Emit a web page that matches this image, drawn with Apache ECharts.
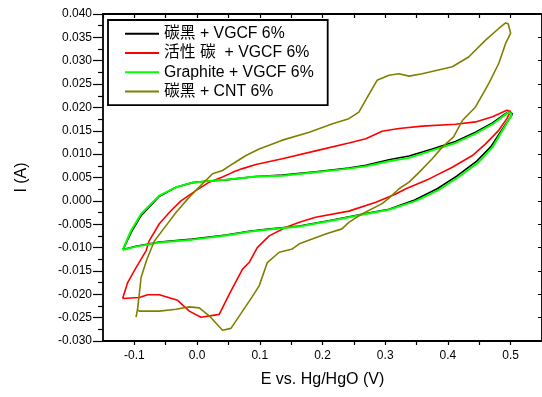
<!DOCTYPE html>
<html>
<head>
<meta charset="utf-8">
<script src="https://cdn.jsdelivr.net/npm/echarts@6/dist/echarts.min.js"></script>
<style>
  html, body { margin: 0; padding: 0; background: #fff; }
  #chart { width: 542px; height: 397px; }
</style>
</head>
<body>
<div id="chart"></div>
<script>
// series names as in the legend
const seriesNames = ["碳黑 + VGCF 6%", "活性 碳  + VGCF 6%", "Graphite + VGCF 6%", "碳黑 + CNT 6%"];
const seriesColors = ["#000000", "#ff0000", "#00ff00", "#808000"];

// 碳黑 + VGCF 6%  (E in V, I in A)
const cbVgcfE = [-0.1180, -0.1045, -0.0890, -0.0600, -0.0336, -0.0072, 0.0141, 0.046, 0.0938, 0.136, 0.189, 0.242, 0.269, 0.306, 0.338, 0.375, 0.412, 0.444, 0.471, 0.490, 0.497,
  0.503, 0.492, 0.469, 0.446, 0.414, 0.383, 0.347, 0.306, 0.269, 0.216, 0.163, 0.110, 0.083, 0.046, -0.0072, -0.0602, -0.0973, -0.1180];
const cbVgcfI = [-0.0104, -0.0066, -0.0031, 0.0010, 0.0029, 0.0039, 0.0042, 0.0045, 0.0052, 0.0055, 0.0062, 0.0070, 0.0076, 0.0088, 0.0096, 0.0111, 0.0127, 0.0147, 0.0167, 0.0185, 0.0191,
  0.0186, 0.0164, 0.0117, 0.0085, 0.0053, 0.0026, 0.0002, -0.0018, -0.0027, -0.0041, -0.0054, -0.0061, -0.0065, -0.0073, -0.0082, -0.0088, -0.0097, -0.0104];

// 活性 碳 + VGCF 6%
const acVgcfE = [-0.1187, -0.1107, -0.0973, -0.0814, -0.0761, -0.0602, -0.0443, -0.0257, -0.002, 0.0194, 0.0406, 0.0565, 0.0725, 0.0938, 0.136, 0.189, 0.242, 0.269, 0.295, 0.322, 0.359, 0.412, 0.444, 0.471, 0.494, 0.500,
  0.494, 0.481, 0.460, 0.439, 0.407, 0.370, 0.333, 0.316, 0.285, 0.242, 0.189, 0.163, 0.141, 0.115, 0.096, 0.083, 0.0725, 0.0512, 0.0353, 0.0062, -0.0124, -0.031, -0.0602, -0.0788, -0.092, -0.1187];
const acVgcfI = [-0.0209, -0.0175, -0.0143, -0.0107, -0.0085, -0.0049, -0.0025, 0.0000, 0.0022, 0.0040, 0.0051, 0.0061, 0.0069, 0.0078, 0.0090, 0.0107, 0.0124, 0.0133, 0.0149, 0.0155, 0.0160, 0.0164, 0.0169, 0.0180, 0.0194, 0.0192,
  0.0176, 0.0151, 0.0122, 0.0097, 0.0072, 0.0047, 0.0026, 0.0014, -0.0003, -0.0022, -0.0035, -0.0046, -0.0057, -0.0075, -0.0100, -0.0132, -0.0146, -0.0200, -0.0243, -0.0249, -0.0236, -0.0213, -0.0201, -0.0201, -0.0207, -0.0209];

// Graphite + VGCF 6%
const grVgcfE = [-0.1187, -0.1053, -0.0893, -0.0604, -0.0336, -0.0072, 0.0141, 0.046, 0.0938, 0.136, 0.189, 0.242, 0.269, 0.306, 0.338, 0.375, 0.412, 0.444, 0.471, 0.490, 0.497,
  0.502, 0.492, 0.471, 0.449, 0.417, 0.386, 0.349, 0.306, 0.269, 0.216, 0.163, 0.110, 0.083, 0.046, -0.0072, -0.0602, -0.0973, -0.1187];
const grVgcfI = [-0.0105, -0.0064, -0.0028, 0.0011, 0.0029, 0.0039, 0.0042, 0.0045, 0.0052, 0.0054, 0.0061, 0.0069, 0.0074, 0.0085, 0.0092, 0.0108, 0.0124, 0.0144, 0.0164, 0.0183, 0.0190,
  0.0185, 0.0162, 0.0115, 0.0083, 0.0051, 0.0024, 0.0000, -0.0019, -0.0028, -0.0042, -0.0055, -0.0062, -0.0066, -0.0074, -0.0083, -0.0089, -0.0098, -0.0105];

// 碳黑 + CNT 6%
const cbCntE = [-0.0973, -0.0947, -0.0893, -0.080, -0.068, -0.0495, -0.0336, -0.0124, 0.0088, 0.0247, 0.0406, 0.0565, 0.0779, 0.099, 0.136, 0.179, 0.216, 0.242, 0.258, 0.272, 0.287, 0.306, 0.322, 0.338, 0.359, 0.407, 0.433, 0.460, 0.481, 0.492, 0.496, 0.500,
  0.492, 0.481, 0.465, 0.444, 0.423, 0.409, 0.391, 0.375, 0.354, 0.338, 0.322, 0.306, 0.295, 0.263, 0.242, 0.231, 0.205, 0.163, 0.152, 0.131, 0.112, 0.099, 0.088, 0.0725, 0.054, 0.0406, 0.0194, 0.0035, -0.0124, -0.0336, -0.0602, -0.092, -0.0945];
const cbCntI = [-0.0249, -0.0230, -0.0164, -0.0125, -0.0086, -0.0053, -0.0025, 0.0008, 0.0037, 0.0058, 0.0065, 0.0079, 0.0097, 0.0111, 0.0130, 0.0147, 0.0165, 0.0176, 0.0190, 0.0223, 0.0258, 0.0269, 0.0272, 0.0267, 0.0272, 0.0287, 0.0308, 0.0344, 0.0369, 0.0381, 0.0379, 0.0359,
  0.0337, 0.0294, 0.0251, 0.0201, 0.0172, 0.0137, 0.0115, 0.0090, 0.0061, 0.0040, 0.0026, 0.0006, -0.0006, -0.0028, -0.0046, -0.0060, -0.0071, -0.0092, -0.0103, -0.0110, -0.0132, -0.0182, -0.0205, -0.0236, -0.0273, -0.0277, -0.0246, -0.0229, -0.0227, -0.0232, -0.0236, -0.0236, -0.0234];

// axis ticks
const xMin = -0.15, xMax = 0.55, xStep = 0.05;
const yMin = -0.030, yMax = 0.040, yStep = 0.005;

const zip = (xs, ys) => xs.map((x, i) => [x, ys[i]]);
const curves = [zip(cbVgcfE, cbVgcfI), zip(acVgcfE, acVgcfI), zip(grVgcfE, grVgcfI), zip(cbCntE, cbCntI)];

const fontFam = "Arial, 'Liberation Sans', 'Noto Sans CJK SC', sans-serif";
const isTenth = (v) => Math.abs(v * 10 - Math.round(v * 10)) < 1e-6;

const chart = echarts.init(document.getElementById("chart"), null, { renderer: "canvas" });

const option = {
  animation: false,
  backgroundColor: "#fff",
  textStyle: { fontFamily: fontFam },
  grid: { left: 103, top: 14, width: 439, height: 327 },
  legend: {
    orient: "vertical",
    left: 108,
    top: 20,
    padding: [4, 14, 4, 17],
    itemGap: 0,
    itemWidth: 34,
    itemHeight: 2,
    itemTextGap: 7,
    icon: "rect",
    borderColor: "#000",
    borderWidth: 1.8,
    textStyle: { fontSize: 15.8, color: "#000", lineHeight: 19.3, fontFamily: fontFam },
    data: seriesNames,
  },
  xAxis: [
    {
      type: "value",
      min: xMin,
      max: xMax,
      interval: xStep,
      position: "bottom",
      name: "E vs. Hg/HgO (V)",
      nameLocation: "middle",
      nameGap: 31,
      nameTextStyle: { fontSize: 16, color: "#000", fontFamily: fontFam },
      axisLine: { onZero: false, lineStyle: { color: "#000", width: 1.8 } },
      axisTick: { length: 4, lineStyle: { color: "#000", width: 1.2 } },
      axisLabel: {
        margin: 9,
        fontSize: 12,
        color: "#000",
        fontFamily: fontFam,
        showMinLabel: false,
        showMaxLabel: false,
        formatter: (v) => (isTenth(v) ? v.toFixed(1) : ""),
      },
      splitLine: { show: false },
    },
    {
      type: "value",
      min: xMin,
      max: xMax,
      interval: xStep,
      position: "top",
      axisLine: { onZero: false, lineStyle: { color: "#000", width: 1.8 } },
      axisTick: { inside: true, length: 4, lineStyle: { color: "#000", width: 1.2 } },
      axisLabel: { show: false },
      splitLine: { show: false },
    },
  ],
  yAxis: [
    {
      type: "value",
      min: yMin,
      max: yMax,
      interval: yStep,
      position: "left",
      name: "I (A)",
      nameLocation: "middle",
      nameGap: 73,
      nameTextStyle: { fontSize: 16, color: "#000", fontFamily: fontFam },
      axisLine: { onZero: false, lineStyle: { color: "#000", width: 1.8 } },
      axisTick: { length: 10, lineStyle: { color: "#000", width: 1.2 } },
      minorTick: { show: true, splitNumber: 2, length: 5, lineStyle: { color: "#000", width: 1.2 } },
      axisLabel: {
        margin: 11,
        fontSize: 12,
        color: "#000",
        fontFamily: fontFam,
        formatter: (v) => v.toFixed(3),
      },
      splitLine: { show: false },
      minorSplitLine: { show: false },
    },
    {
      type: "value",
      min: yMin,
      max: yMax,
      interval: yStep,
      position: "right",
      axisLine: { show: true, onZero: false, lineStyle: { color: "#000", width: 1.8 } },
      axisTick: { inside: true, length: 4 },
      axisLabel: { show: false },
      splitLine: { show: false },
    },
  ],
  series: curves.map((pts, i) => ({
    name: seriesNames[i],
    type: "line",
    data: pts,
    color: seriesColors[i],
    showSymbol: false,
    symbol: "none",
    smooth: false,
    lineStyle: { color: seriesColors[i], width: i === 2 ? 2 : 1.6 },
  })),
};

chart.setOption(option);
</script>
</body>
</html>
